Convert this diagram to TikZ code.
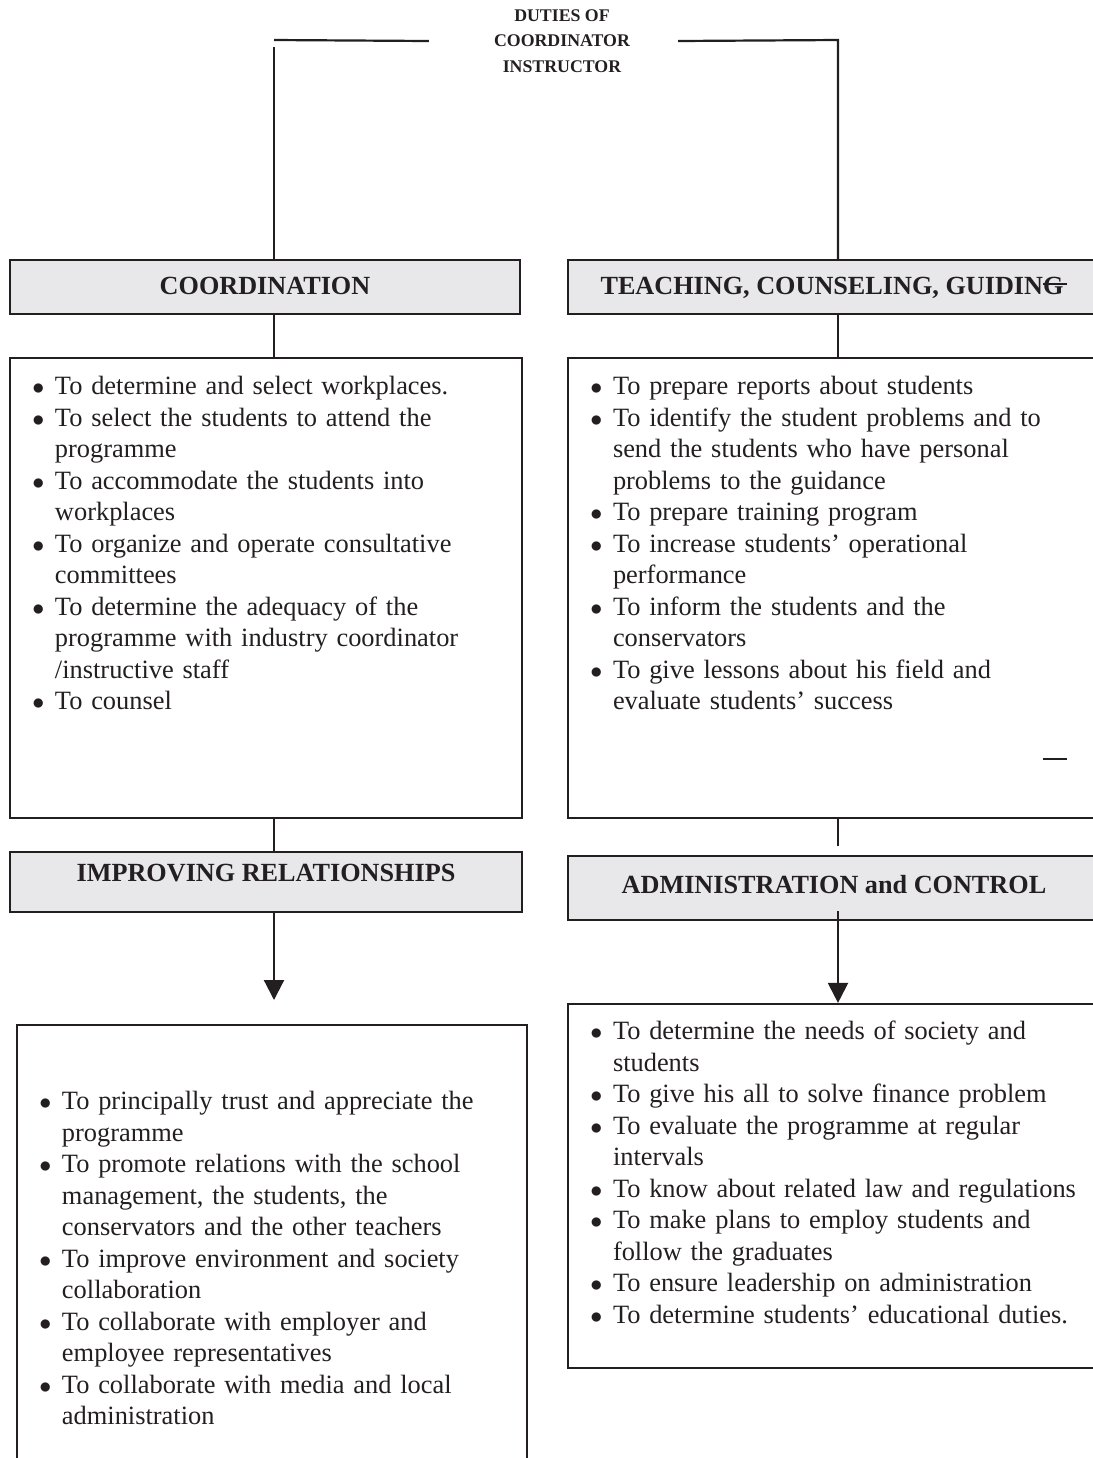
\documentclass[tikz,border=0pt]{standalone}
\usepackage{fontspec}
\setmainfont{Liberation Serif}
\usepackage{enumitem}
\usetikzlibrary{arrows.meta}

\definecolor{ink}{HTML}{231F20}
\definecolor{headgray}{HTML}{E8E8EA}

\newcommand{\listfont}{\fontsize{13.2}{15.75}\selectfont}
\newcommand{\headfont}{\fontsize{13.1}{15}\selectfont\bfseries}
\newcommand{\titlefont}{\fontsize{8.9}{12.75}\selectfont\bfseries}

\newlist{duties}{itemize}{1}
\setlist[duties]{nosep,leftmargin=12pt,labelsep=5.3pt,label=$\bullet$}

\begin{document}
\begin{tikzpicture}[x=0.5pt,y=-0.5pt,color=ink,line width=1.1pt,
  head/.style={shape=rectangle,draw,fill=headgray,inner sep=0pt,font=\headfont},
  frame/.style={shape=rectangle,draw,inner sep=0pt},
  items/.style={anchor=north west,inner sep=0pt,text width=250pt,font=\listfont,align=left},
  arr/.style={-{Triangle[length=10pt,width=10pt]}}]
\useasboundingbox (0,0) rectangle (1093,1458);

% columns and free ends
\coordinate (LC) at (274,0);
\coordinate (RC) at (838,0);
\coordinate (TL) at (274,40);
\coordinate (TLv) at (274,47);
\coordinate (TR) at (838,40);
\coordinate (LEnd) at (274,1000);
\coordinate (REnd) at (838,846);
\coordinate (RStart) at (838,911);

\path (562,41) node (Title) [font=\titlefont,align=center,inner sep=0pt] {DUTIES OF\\COORDINATOR\\INSTRUCTOR};

% headings
\path (265,287) node (Coord) [head,minimum width=255pt,minimum height=27pt,text height=17pt,text depth=10pt] {COORDINATION};
\path (832,287) node (Teach) [head,minimum width=264pt,minimum height=27pt,text height=17pt,text depth=10pt] {TEACHING, COUNSELING, GUIDING};
\path (266,882) node (Improv) [head,minimum width=256pt,minimum height=30pt,text height=14.5pt,text depth=15.5pt] {IMPROVING RELATIONSHIPS};
\path (834,888) node (Admin) [head,minimum width=266pt,minimum height=32pt,text height=18.5pt,text depth=13.5pt] {ADMINISTRATION and CONTROL};

% frames
\path (266,588) node (List1) [frame,minimum width=256pt,minimum height=230pt] {};
\path (838,588) node (List2) [frame,minimum width=270pt,minimum height=230pt] {};
\path (272,1252.5) node (List3) [frame,minimum width=255pt,minimum height=227.5pt] {};
\path (838,1186) node (List4) [frame,minimum width=270pt,minimum height=182pt] {};

\path ([shift={(21,5)}]List1.north west) node (Text1) [items] {%
\begin{duties}
\item To determine and select workplaces.
\item To select the students to attend the\\ programme
\item To accommodate the students into\\ workplaces
\item To organize and operate consultative\\ committees
\item To determine the adequacy of the\\ programme with industry coordinator\\ /instructive staff
\item To counsel
\end{duties}};

\path ([shift={(21,5)}]List2.north west) node (Text2) [items] {%
\begin{duties}
\item To prepare reports about students
\item To identify the student problems and to\\ send the students who have personal\\ problems to the guidance
\item To prepare training program
\item To increase students’ operational\\ performance
\item To inform the students and the\\ conservators
\item To give lessons about his field and\\ evaluate students’ success
\end{duties}};

\path ([shift={(21,53)}]List3.north west) node (Text3) [items] {%
\begin{duties}
\item To principally trust and appreciate the\\ programme
\item To promote relations with the school\\ management, the students, the\\ conservators and the other teachers
\item To improve environment and society\\ collaboration
\item To collaborate with employer and\\ employee representatives
\item To collaborate with media and local\\ administration
\end{duties}};

\path ([shift={(21,4)}]List4.north west) node (Text4) [items] {%
\begin{duties}
\item To determine the needs of society and\\ students
\item To give his all to solve finance problem
\item To evaluate the programme at regular\\ intervals
\item To know about related law and regulations
\item To make plans to employ students and\\ follow the graduates
\item To ensure leadership on administration
\item To determine students’ educational duties.
\end{duties}};

% connectors
\draw ([xshift=-32pt]Title.west) -- (TL);
\draw (TLv) -- (Coord.north -| LC);
\draw ([xshift=23.5pt]Title.east) -- (TR) -- (Teach.north -| RC);
\draw (Coord.south -| LC) -- (List1.north -| LC);
\draw (List1.south -| LC) -- (Improv.north -| LC);
\draw[arr] (Improv.south -| LC) -- (LEnd);
\draw (Teach.south -| RC) -- (List2.north -| RC);
\draw (List2.south -| RC) -- (REnd);
\draw[arr] (RStart) -- (List4.north -| RC);

% stray strokes
\draw[line width=0.8pt] (1043,284) -- (1067,284);
\draw (1043,759) -- (1067,759);

\end{tikzpicture}
\end{document}
